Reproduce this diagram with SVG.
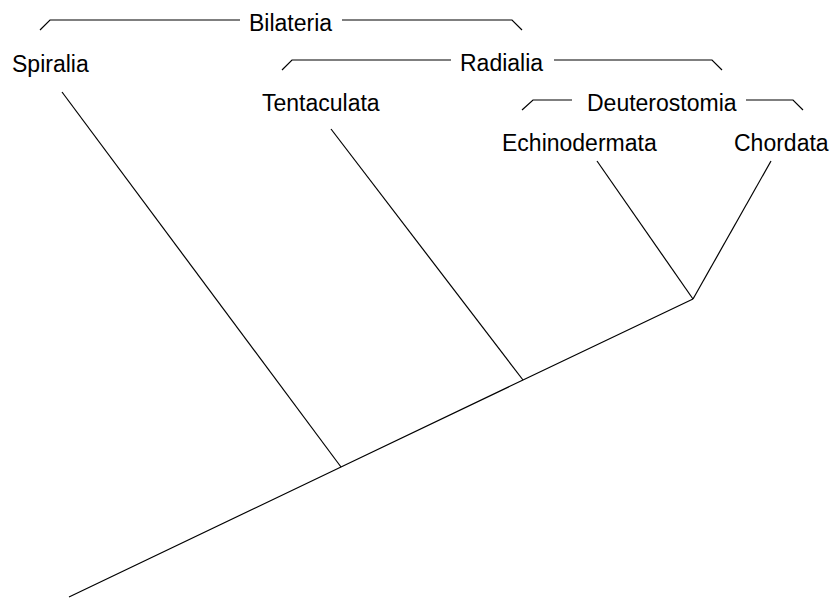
<svg xmlns="http://www.w3.org/2000/svg" width="834" height="598" viewBox="0 0 834 598">
<style>
text{font-family:"Liberation Sans",Arial,sans-serif;font-size:23px;fill:#000}
.l{stroke:#000;stroke-width:1.2;fill:none}
</style>
<rect width="834" height="598" fill="#fff"/>
<g id="connectors">
<polyline class="l" points="69,597 341,467 523,380 693,299"/>
<line class="l" x1="62" y1="92" x2="341" y2="467"/>
<line class="l" x1="331" y1="129" x2="523" y2="380"/>
<line class="l" x1="597" y1="161" x2="693" y2="299"/>
<line class="l" x1="771" y1="161" x2="693" y2="299"/>
</g>
<g id="bilateria">
<polyline class="l" points="40,30 50,20 240,20"/>
<polyline class="l" points="342,20 512,20 522,30"/>
<text x="249" y="31">Bilateria</text>
</g>
<g id="radialia">
<polyline class="l" points="282,70 292,60 451,60"/>
<polyline class="l" points="554,60 712,60 722,70"/>
<text x="460" y="71">Radialia</text>
</g>
<g id="deuterostomia">
<polyline class="l" points="522,110 533,100 572,100"/>
<polyline class="l" points="746,100 793,100 803,110"/>
<text x="587" y="111">Deuterostomia</text>
</g>
<g id="spiralia"><text x="12" y="72">Spiralia</text></g>
<g id="tentaculata"><text x="262" y="111">Tentaculata</text></g>
<g id="echinodermata"><text x="502" y="151">Echinodermata</text></g>
<g id="chordata"><text x="734" y="151">Chordata</text></g>
</svg>
